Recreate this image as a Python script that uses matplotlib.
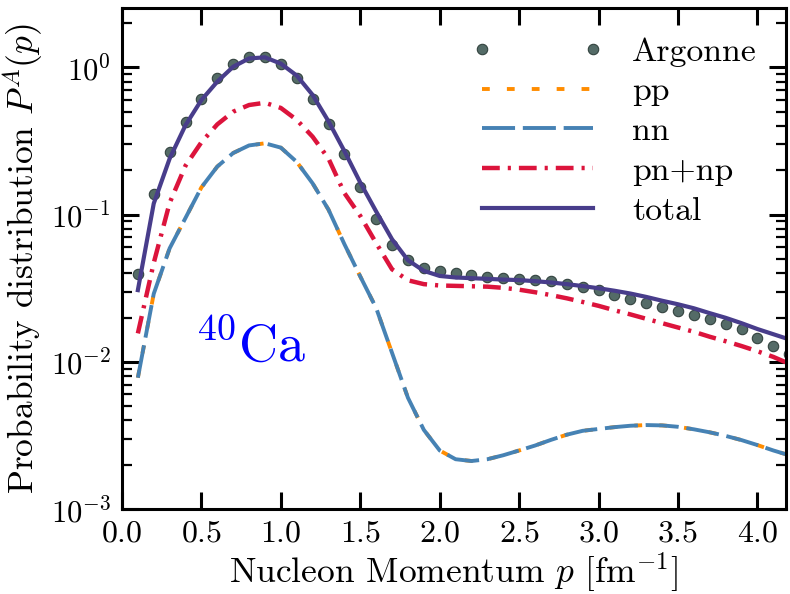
import numpy as np
import matplotlib
matplotlib.use("Agg")
import matplotlib.pyplot as plt
from matplotlib.ticker import FixedLocator, FuncFormatter, LogLocator, NullFormatter

# momentum grid [fm^-1]
p_grid = [0.1, 0.2, 0.3, 0.4, 0.5, 0.6, 0.7, 0.8, 0.9, 1.0,
          1.1, 1.2, 1.3, 1.4, 1.5, 1.6, 1.7, 1.8, 1.9, 2.0,
          2.1, 2.2, 2.3, 2.4, 2.5, 2.6, 2.7, 2.8, 2.9, 3.0,
          3.1, 3.2, 3.3, 3.4, 3.5, 3.6, 3.7, 3.8, 3.9, 4.0,
          4.1, 4.2]

argonne = [0.0394, 0.139, 0.267, 0.423, 0.612, 0.846, 1.053, 1.18, 1.18, 1.053,
           0.846, 0.612, 0.412, 0.259, 0.154, 0.0932, 0.0621, 0.0489, 0.0435, 0.0413,
           0.0401, 0.0389, 0.0378, 0.0370, 0.0365, 0.0359, 0.0352, 0.0339, 0.0323, 0.0306,
           0.0285, 0.0267, 0.0252, 0.0235, 0.0222, 0.0209, 0.0195, 0.0182, 0.0166, 0.0146,
           0.0128, 0.0113]

nn = [0.0078, 0.029, 0.059, 0.095, 0.153, 0.212, 0.262, 0.295, 0.305, 0.285,
      0.228, 0.163, 0.108, 0.063, 0.038, 0.0232, 0.0115, 0.0057, 0.00345, 0.00250,
      0.00218, 0.00212, 0.00218, 0.00232, 0.0025, 0.0027, 0.00295, 0.0032, 0.0034, 0.0035,
      0.0036, 0.00368, 0.00372, 0.0037, 0.00362, 0.00348, 0.00332, 0.00314, 0.00294, 0.00272,
      0.0025, 0.00232]

# pp coincides with nn for 40Ca
pp = list(nn)

pn_np = [0.0156, 0.047, 0.12, 0.215, 0.31, 0.41, 0.50, 0.555, 0.575, 0.53,
         0.44, 0.338, 0.24, 0.14, 0.098, 0.064, 0.0425, 0.0358, 0.0337, 0.0330,
         0.0328, 0.0326, 0.0324, 0.0318, 0.0309, 0.0297, 0.0284, 0.0270, 0.0255, 0.0240,
         0.0224, 0.0210, 0.0196, 0.0183, 0.0171, 0.0160, 0.0148, 0.0138, 0.0128, 0.0118,
         0.0108, 0.0097]

total = [0.0307, 0.119, 0.24, 0.405, 0.60, 0.80, 1.01, 1.15, 1.17, 1.06,
         0.88, 0.65, 0.43, 0.27, 0.165, 0.105, 0.068, 0.049, 0.0415, 0.0383,
         0.0374, 0.0370, 0.0366, 0.0362, 0.0359, 0.0353, 0.0346, 0.0337, 0.0327, 0.0316,
         0.0304, 0.0291, 0.0276, 0.0260, 0.0246, 0.0231, 0.0214, 0.0199, 0.0183, 0.0167,
         0.0154, 0.0142]

x_ticks = [0.0, 0.5, 1.0, 1.5, 2.0, 2.5, 3.0, 3.5, 4.0]
y_ticks = [1e-3, 1e-2, 1e-1, 1e0]

plt.rcParams["font.family"] = "serif"
plt.rcParams["font.serif"] = ["cmr10", "DejaVu Serif"]
plt.rcParams["mathtext.fontset"] = "cm"
plt.rcParams["axes.unicode_minus"] = False
plt.rcParams["axes.formatter.use_mathtext"] = True

fig = plt.figure(figsize=(7.9, 5.94), dpi=100)
ax = fig.add_axes([0.1544, 0.143, 0.8406, 0.8435])

ax.plot(p_grid, argonne, linestyle="none", marker="o", markersize=7.5,
        color="#546b67", markeredgecolor="#33433f", markeredgewidth=0.8,
        label="Argonne")
ax.plot(p_grid, pp, color="#ff8c00", lw=2.8, dashes=(2.0, 4.4), label="pp")
ax.plot(p_grid, nn, color="#4682b4", lw=2.8, dashes=(8.5, 2.0), label="nn")
ax.plot(p_grid, pn_np, color="#dc143c", lw=3.2, dashes=(4.0, 1.8, 0.7, 1.8),
        label="pn+np")
ax.plot(p_grid, total, color="#483d8b", lw=3.0, label="total")

ax.set_yscale("log")
ax.set_xlim(0, 4.18)
ax.set_ylim(1e-3, 2.53)

ax.xaxis.set_major_locator(FixedLocator(x_ticks))
ax.xaxis.set_major_formatter(FuncFormatter(lambda v, pos: r"$\mathbf{%.1f}$" % v))
ax.yaxis.set_major_locator(FixedLocator(y_ticks))
ax.yaxis.set_major_formatter(
    FuncFormatter(lambda v, pos: r"$\mathbf{10^{%d}}$" % int(round(np.log10(v)))))
ax.yaxis.set_minor_locator(LogLocator(base=10, subs=np.arange(2, 10), numticks=20))
ax.yaxis.set_minor_formatter(NullFormatter())

ax.tick_params(which="both", direction="in", top=True, right=True)
ax.tick_params(which="major", length=12, width=2.2, pad=8)
ax.tick_params(axis="x", which="major", labelsize=23)
ax.tick_params(axis="y", which="major", labelsize=22)
ax.tick_params(which="minor", length=7, width=1.6)
for side in ax.spines.values():
    side.set_linewidth(2.2)

ax.set_xlabel(r"Nucleon Momentum $p$ [fm$^{-1}$]", fontsize=25.5, labelpad=2)
ax.set_ylabel(r"Probability distribution $P^A(p)$", fontsize=25.5, labelpad=4)

ax.text(0.46, 1.0e-2, r"$^{40}\mathrm{Ca}$", color="blue", fontsize=39,
        va="baseline", ha="left")

ax.legend(loc="upper right", frameon=False, fontsize=24.3, numpoints=2,
          handlelength=3.9, handletextpad=0.85, labelspacing=0.3,
          borderaxespad=0.46)

fig.savefig("out.png", dpi=100)
